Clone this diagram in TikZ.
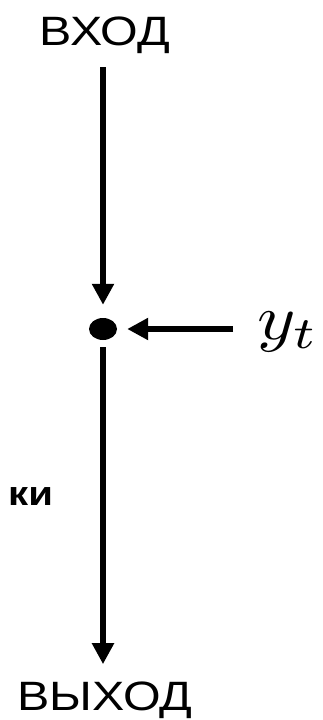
\documentclass[tikz,border=0pt]{standalone}
\usepackage{fontspec}
\setmainfont{Liberation Sans}
\usetikzlibrary{arrows.meta,shapes.geometric}
\begin{document}
\begin{tikzpicture}[x=1pt,y=1pt,
  lbl/.style={inner sep=0pt, font=\fontsize{41}{45}\selectfont},
  arr/.style={line width=5.5pt, -{Triangle[length=21pt,width=21pt]}},
  ]
\useasboundingbox (0,0) rectangle (322,-720);
\node[lbl, anchor=base] (in) at (105,-45) {\scalebox{1.18}[1]{ВХОД}};
\node[ellipse, fill=black, inner sep=0pt, minimum width=28pt, minimum height=22pt] (dot) at (103,-329) {};
\node[inner sep=0pt, anchor=base west] (yt) at (257,-339) {\scalebox{7.3}[6.4]{$y_t$}};
\node[lbl, anchor=base] (out) at (105,-710) {\scalebox{1.18}[1]{ВЫХОД}};
\node[inner sep=0pt, anchor=base west, font=\fontsize{34}{36}\selectfont\bfseries] (ki) at (8,-505) {\scalebox{1.18}[1]{ки}};
\draw[arr, shorten <=24pt, shorten >=10pt] (yt.west |- dot.east) -- (dot.east);
\draw[arr, shorten <=14pt, shorten >=13pt] (in.south -| dot.center) -- (dot.north);
\draw[arr, shorten <=7pt, shorten >=17pt] (dot.south) -- (dot.south |- out.north);
\end{tikzpicture}
\end{document}
